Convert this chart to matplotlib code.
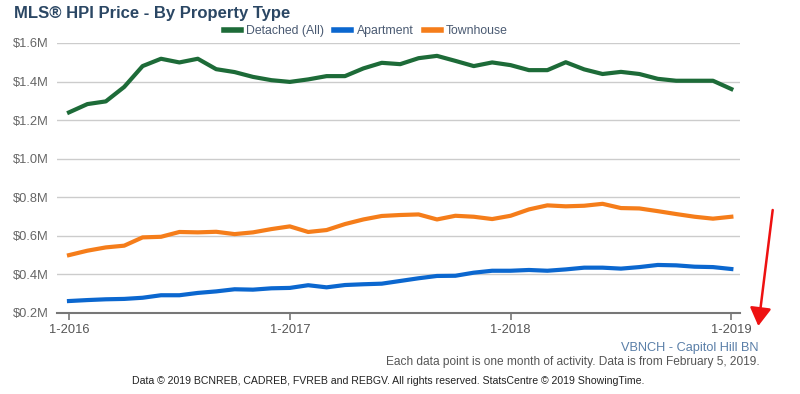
import matplotlib
matplotlib.use("Agg")
import matplotlib.pyplot as plt
from matplotlib.ticker import FuncFormatter

plt.rcParams['font.family'] = ['Liberation Sans', 'DejaVu Sans']

# Monthly HPI benchmark prices (millions), Jan 2016 .. Jan 2019
months = list(range(37))
detached = [1.240, 1.283, 1.297, 1.372, 1.480, 1.518, 1.499, 1.518, 1.464, 1.449,
            1.424, 1.407, 1.398, 1.411, 1.428, 1.428, 1.468, 1.497, 1.490, 1.521,
            1.533, 1.507, 1.480, 1.499, 1.485, 1.459, 1.459, 1.500, 1.463, 1.439,
            1.450, 1.439, 1.414, 1.404, 1.404, 1.404, 1.361]
apartment = [0.262, 0.267, 0.271, 0.273, 0.279, 0.292, 0.292, 0.304, 0.312, 0.323,
             0.321, 0.328, 0.330, 0.344, 0.333, 0.345, 0.349, 0.352, 0.366, 0.380,
             0.392, 0.393, 0.409, 0.419, 0.419, 0.423, 0.419, 0.426, 0.435, 0.435,
             0.430, 0.438, 0.449, 0.447, 0.440, 0.438, 0.428]
townhouse = [0.500, 0.523, 0.540, 0.549, 0.592, 0.595, 0.620, 0.618, 0.621, 0.609,
             0.618, 0.635, 0.649, 0.620, 0.630, 0.661, 0.685, 0.703, 0.708, 0.711,
             0.685, 0.704, 0.699, 0.687, 0.704, 0.737, 0.758, 0.753, 0.756, 0.766,
             0.744, 0.742, 0.728, 0.713, 0.699, 0.689, 0.699]
x_ticks = [0, 12, 24, 36]
x_labels = ["1-2016", "1-2017", "1-2018", "1-2019"]
y_ticks = [0.2, 0.4, 0.6, 0.8, 1.0, 1.2, 1.4, 1.6]

fig = plt.figure(figsize=(8, 3.94), dpi=100)
ax = fig.add_axes([0.0713, 0.2056, 0.8537, 0.6854])

ax.plot(months, detached, color="#1d6b38", lw=3.0, label="Detached (All)", solid_joinstyle="round")
ax.plot(months, apartment, color="#0b67cf", lw=3.0, label="Apartment", solid_joinstyle="round")
ax.plot(months, townhouse, color="#f57d1a", lw=3.0, label="Townhouse", solid_joinstyle="round")

ax.set_xlim(-0.65, 36.47)
ax.set_ylim(0.2, 1.6)
ax.set_yticks(y_ticks)
ax.yaxis.set_major_formatter(FuncFormatter(lambda v, p: "${:.1f}M".format(v)))
ax.set_xticks(x_ticks)
ax.set_xticklabels(x_labels)
ax.grid(axis="y", color="#cccccc", lw=1)
ax.set_axisbelow(True)
for s in ["top", "right", "left"]:
    ax.spines[s].set_visible(False)
ax.spines["bottom"].set_color("#777777")
ax.spines["bottom"].set_linewidth(1.5)
ax.tick_params(axis="y", length=0, pad=6, labelsize=9.3, labelcolor="#666666")
ax.tick_params(axis="x", length=5, width=1.2, color="#777777", pad=3, labelsize=9.3, labelcolor="#555555")

fig.text(0.018, 0.966, "MLS® HPI Price - By Property Type", fontsize=12, fontweight="bold",
         color="#2b4764", va="center", ha="left")
leg = ax.legend(loc="center", bbox_to_anchor=(0.452, 1.045), ncol=3, frameon=False,
                fontsize=8.8, handlelength=1.4, handletextpad=0.42, columnspacing=0.85)
for t in leg.get_texts():
    t.set_color("#4a5a72")
for h in leg.get_lines():
    h.set_linewidth(4)

fig.text(0.948, 0.117, "VBNCH - Capitol Hill BN", fontsize=9.2, color="#5a7fa8", ha="right", va="center")
fig.text(0.95, 0.081, "Each data point is one month of activity. Data is from February 5, 2019.",
         fontsize=8.6, color="#555555", ha="right", va="center")
fig.text(0.165, 0.033, "Data \u00a9 2019 BCNREB, CADREB, FVREB and REBGV. All rights reserved. StatsCentre \u00a9 2019 ShowingTime.",
         fontsize=7.55, color="#222222", ha="left", va="center")

# red pointer arrow
fig.add_artist(matplotlib.patches.FancyArrowPatch((772.7 / 800, 1 - 210 / 394), (758.3 / 800, 1 - 326 / 394),
                                                  transform=fig.transFigure, arrowstyle="-|>,head_length=11,head_width=6.5",
                                                  color="#ee1111", lw=1.8, mutation_scale=1,
                                                  shrinkA=0, shrinkB=0))

fig.savefig("out.png", dpi=100)
